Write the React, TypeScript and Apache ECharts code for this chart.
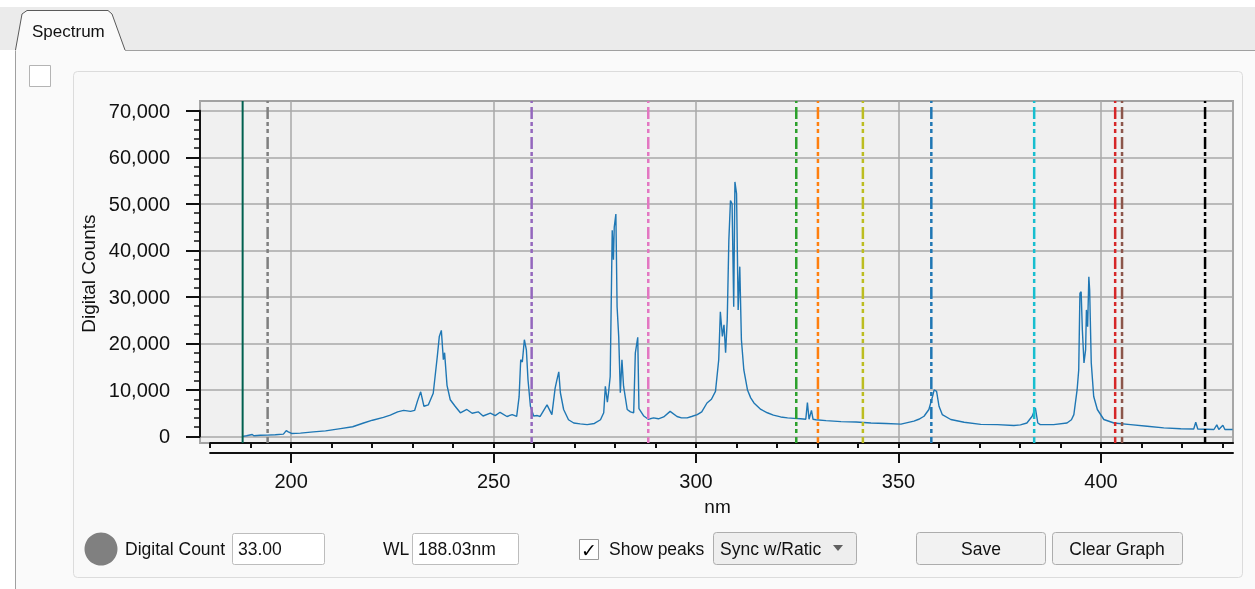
import React, { useEffect, useRef } from "react";
import * as echarts from "echarts";

// ---------------- data ----------------
const SPECTRUM_NM = [
  188.03, 189.0, 190.4, 190.8, 192.4, 194.1, 196.1, 198.1, 198.8, 199.3, 200.1, 202.3, 205.5, 208.5,
  212.2, 215.2, 217.9, 220.1, 222.8, 224.5, 226.3, 227.8, 229.5, 230.5, 231.2, 232.0, 232.8, 233.9,
  235.1, 236.1, 236.6, 237.1, 237.6, 237.9, 238.5, 239.3, 240.5, 241.8, 243.4, 244.7, 246.2, 247.4,
  249.2, 250.4, 251.6, 253.3, 254.6, 255.7, 256.3, 256.7, 257.1, 257.6, 258.1, 258.5, 259.1, 259.9,
  260.8, 261.5, 263.2, 264.4, 265.2, 265.6, 266.1, 266.5, 267.3, 268.5, 269.8, 271.4, 273.1, 274.9,
  276.4, 277.2, 277.6, 278.1, 278.4, 278.8, 279.3, 279.6, 279.8, 280.2, 280.5, 280.9, 281.3, 281.7,
  282.1, 283.0, 283.8, 284.6, 285.0, 285.6, 285.9, 287.1, 288.2, 289.5, 290.7, 292.0, 293.6, 295.3,
  296.4, 297.8, 298.9, 300.3, 301.4, 302.7, 303.8, 304.8, 305.6, 306.0, 306.5, 306.9, 307.3, 307.7,
  308.1, 308.5, 308.9, 309.3, 309.6, 310.0, 310.4, 310.8, 311.2, 311.8, 312.7, 313.5, 314.3, 316.0,
  317.6, 319.1, 320.9, 322.6, 324.2, 325.8, 327.1, 327.5, 327.9, 328.5, 328.9, 329.6, 332.1, 335.8,
  339.5, 343.2, 346.9, 350.6, 353.8, 355.0, 356.3, 357.5, 358.4, 358.8, 359.4, 360.0, 360.8, 362.9,
  366.2, 370.3, 374.4, 378.5, 380.1, 381.7, 383.0, 383.8, 384.4, 385.0, 388.3, 391.6, 392.7, 393.3,
  394.1, 394.5, 394.8, 395.1, 395.4, 395.8, 396.2, 396.4, 396.7, 397.0, 397.2, 397.6, 398.2, 399.1,
  400.7, 403.2, 407.3, 411.4, 415.5, 419.7, 422.9, 423.4, 423.9, 427.9, 428.6, 429.1, 430.1, 430.6,
  432.5,
];
const SPECTRUM_COUNTS = [
  33, 150, 420, 150, 250, 300, 380, 500, 1250, 1000, 650, 720, 1000, 1200,
  1700, 2100, 2900, 3500, 4100, 4600, 5300, 5600, 5400, 5600, 7600, 9600, 6500, 6800,
  9300, 17200, 21500, 22800, 16500, 18000, 11000, 7900, 6500, 5100, 5800, 5000, 5300, 4400,
  5000, 4500, 5200, 4300, 4700, 4300, 8500, 16500, 16000, 20800, 18600, 12200, 6500, 4400,
  4500, 4300, 6800, 4700, 10400, 12000, 13900, 9400, 5800, 3600, 2900, 2700, 2550, 2800,
  3600, 5100, 10800, 7400, 9500, 12900, 44300, 38000, 45000, 47800, 27900, 21500, 9400, 16500,
  10800, 5800, 5300, 5100, 17900, 21300, 6000, 4400, 3700, 4000, 3800, 4200, 5400, 4300,
  4000, 4000, 4300, 4700, 5300, 7200, 8000, 9700, 16500, 26800, 21500, 24000, 18000, 25000,
  42200, 50700, 50000, 27900, 54700, 52200, 27200, 36500, 20800, 14300, 10000, 8300, 7200, 5800,
  5100, 4600, 4200, 4000, 3900, 3800, 3700, 7300, 3700, 5600, 3700, 3600, 3400, 3200,
  3100, 2900, 2800, 2650, 3300, 3700, 4350, 5800, 8600, 10000, 9700, 6500, 4700, 3650,
  3050, 2600, 2550, 2350, 2500, 2900, 4350, 6100, 2900, 2550, 2550, 2900, 3600, 4700,
  10000, 14300, 30800, 31100, 22900, 15800, 18600, 27200, 23600, 34300, 31500, 15800, 8600, 5800,
  3650, 2900, 2550, 2200, 1850, 1650, 1600, 3050, 1600, 1500, 2500, 1500, 2400, 1500,
  1500,
];

const CURSOR_NM = 188.03;
const CURSOR_COUNT = 33.0;

const PEAK_NM = [194.2, 259.4, 288.2, 324.75, 330.1, 341.2, 358.1, 383.5, 403.5, 405.2, 425.7];
const PEAK_COLORS = [
  "#7f7f7f", "#9467bd", "#e377c2", "#2ca02c", "#ff7f0e", "#bcbd22",
  "#1f77b4", "#17becf", "#d62728", "#8c564b", "#000000",
];

const X_MAJOR_TICKS = [200, 250, 300, 350, 400];
const X_MINOR_TICKS = [180, 190, 200, 210, 220, 230, 240, 250, 260, 270, 280, 290, 300, 310, 320, 330, 340, 350, 360, 370, 380, 390, 400, 410, 420, 430];
const Y_TICK_MIN = 0;
const Y_TICK_MAX = 70000;
const Y_TICK_STEP = 10000;

// ---------------- layout ----------------
const FONT = "'Liberation Sans', Arial, sans-serif";
const PLOT_LEFT = 200;
const PLOT_TOP = 101;
const PLOT_W = 1033;
const PLOT_H = 342;
const X_MIN = 177.5;
const X_MAX = 432.6;
const Y_MIN = -1400;
const Y_MAX = 72100;

const yGridTop = PLOT_TOP + ((Y_MAX - Y_TICK_MAX) / (Y_MAX - Y_MIN)) * PLOT_H;
const yGridH = ((Y_TICK_MAX - Y_TICK_MIN) / (Y_MAX - Y_MIN)) * PLOT_H;
const xGridLeft = PLOT_LEFT + ((X_MINOR_TICKS[0] - X_MIN) / (X_MAX - X_MIN)) * PLOT_W;
const xGridW = PLOT_W - (xGridLeft - PLOT_LEFT);

const UI_TEXT = { fontSize: 17.5, fontFamily: FONT, fill: "#111", verticalAlign: "middle" as const };

function buildOption() {
  const spectrum = SPECTRUM_NM.map((x, i) => [x, SPECTRUM_COUNTS[i]]);
  const peakSeries = PEAK_NM.map((v, i) => ({
    type: "line",
    name: "peak" + i,
    xAxisIndex: 0,
    yAxisIndex: 0,
    data: [
      [v, Y_MAX],
      [v, Y_MIN],
    ],
    symbol: "none",
    silent: true,
    z: 4,
    lineStyle: { color: PEAK_COLORS[i], width: 2.5, type: [12, 3, 4, 3, 4, 4], dashOffset: 24 },
  }));

  const graphics: any[] = [
    { type: "rect", z: -20, shape: { x: 0, y: 0, width: 1255, height: 589 }, style: { fill: "#ffffff" } },
    { type: "rect", z: -19, shape: { x: 0, y: 7, width: 1255, height: 43 }, style: { fill: "#ebebeb" } },
    { type: "rect", z: -19, shape: { x: 15, y: 50, width: 1240, height: 539 }, style: { fill: "#fafafa" } },
    { type: "line", z: -18, shape: { x1: 125, y1: 50.5, x2: 1255, y2: 50.5 }, style: { stroke: "#a0a0a0", lineWidth: 1 } },
    { type: "line", z: -18, shape: { x1: 15.5, y1: 49, x2: 15.5, y2: 589 }, style: { stroke: "#a0a0a0", lineWidth: 1 } },
    {
      type: "polygon", z: -17,
      shape: { points: [[15.5, 51], [22, 14], [27, 10.5], [108, 10.5], [112, 14], [125, 51]] },
      style: { fill: "#fafafa" },
    },
    {
      type: "polyline", z: -16,
      shape: { points: [[15.5, 50], [22, 14], [27, 10.5], [108, 10.5], [112, 14], [125, 50]] },
      style: { stroke: "#5a5a5a", lineWidth: 1, fill: "none" },
    },
    { type: "text", z: -15, x: 32, y: 31, style: { ...UI_TEXT, text: "Spectrum", fontSize: 17 } },
    { type: "rect", z: -15, shape: { x: 29.5, y: 65.5, width: 21, height: 21 }, style: { fill: "#ffffff", stroke: "#b4b4b4", lineWidth: 1 } },
    { type: "rect", z: -15, shape: { x: 73.5, y: 71.5, width: 1169, height: 506, r: 4 }, style: { fill: "#f9f9f9", stroke: "#dcdcdc", lineWidth: 1 } },

    // bottom controls
    { type: "circle", z: 1, shape: { cx: 101, cy: 549, r: 16.5 }, style: { fill: "#808080" } },
    { type: "text", z: 1, x: 125, y: 549, style: { ...UI_TEXT, text: "Digital Count" } },
    { type: "rect", z: 1, shape: { x: 232.5, y: 533.5, width: 92, height: 31, r: 2 }, style: { fill: "#ffffff", stroke: "#bdbdbd", lineWidth: 1 } },
    { type: "text", z: 2, x: 238, y: 549, style: { ...UI_TEXT, text: CURSOR_COUNT.toFixed(2) } },
    { type: "text", z: 1, x: 383, y: 549, style: { ...UI_TEXT, text: "WL" } },
    { type: "rect", z: 1, shape: { x: 412.5, y: 533.5, width: 106, height: 31, r: 2 }, style: { fill: "#ffffff", stroke: "#bdbdbd", lineWidth: 1 } },
    { type: "text", z: 2, x: 418, y: 549, style: { ...UI_TEXT, text: CURSOR_NM.toFixed(2) + "nm" } },
    { type: "rect", z: 1, shape: { x: 579.5, y: 539.5, width: 19, height: 20 }, style: { fill: "#ffffff", stroke: "#9a9a9a", lineWidth: 1 } },
    { type: "text", z: 2, x: 589, y: 550, style: { text: "✓", fontSize: 19, fontWeight: "bold", fontFamily: "'DejaVu Sans', sans-serif", fill: "#000", align: "center", verticalAlign: "middle" } },
    { type: "text", z: 1, x: 609, y: 549, style: { ...UI_TEXT, text: "Show peaks" } },
    { type: "rect", z: 1, shape: { x: 713.5, y: 532.5, width: 143, height: 32, r: 3 }, style: { fill: "#eeeeee", stroke: "#adadad", lineWidth: 1 } },
    { type: "text", z: 2, x: 720, y: 549, style: { ...UI_TEXT, text: "Sync w/Ratic" } },
    { type: "polygon", z: 2, shape: { points: [[833, 545], [843, 545], [838, 551]] }, style: { fill: "#606060" } },
    { type: "rect", z: 1, shape: { x: 916.5, y: 532.5, width: 129, height: 32, r: 3 }, style: { fill: "#f2f2f2", stroke: "#adadad", lineWidth: 1 } },
    { type: "text", z: 2, x: 981, y: 549, style: { ...UI_TEXT, text: "Save", align: "center" } },
    { type: "rect", z: 1, shape: { x: 1052.5, y: 532.5, width: 130, height: 32, r: 3 }, style: { fill: "#f2f2f2", stroke: "#adadad", lineWidth: 1 } },
    { type: "text", z: 2, x: 1117, y: 549, style: { ...UI_TEXT, text: "Clear Graph", align: "center" } },
  ];

  const axisText = { color: "#111", fontSize: 20, fontFamily: FONT };

  return {
    animation: false,
    backgroundColor: "transparent",
    textStyle: { fontFamily: FONT },
    graphic: { elements: graphics },
    grid: [
      {
        left: PLOT_LEFT, top: PLOT_TOP, width: PLOT_W, height: PLOT_H,
        show: true, backgroundColor: "#f0f0f0", borderColor: "#a3a3a3", borderWidth: 2,
        containLabel: false, outerBoundsMode: "none",
      },
      { left: PLOT_LEFT, top: yGridTop, width: PLOT_W, height: yGridH, containLabel: false, outerBoundsMode: "none" },
      { left: xGridLeft, top: PLOT_TOP, width: xGridW, height: PLOT_H, containLabel: false, outerBoundsMode: "none" },
    ],
    xAxis: [
      {
        gridIndex: 0, type: "value", min: X_MIN, max: X_MAX, splitNumber: 5,
        axisLine: { show: false }, axisTick: { show: false }, axisLabel: { show: false },
        splitLine: { show: true, lineStyle: { color: "#a9a9a9", width: 1.5 } },
      },
      {
        gridIndex: 2, type: "value", min: X_MINOR_TICKS[0], max: X_MAX, position: "bottom", offset: 10,
        axisLine: { show: true, lineStyle: { color: "#111", width: 2 } },
        axisTick: { show: true, customValues: X_MINOR_TICKS, length: 5, lineStyle: { color: "#111", width: 2 } },
        axisLabel: { show: false }, splitLine: { show: false },
      },
      {
        gridIndex: 2, type: "value", min: X_MINOR_TICKS[0], max: X_MAX, position: "bottom", offset: 10,
        axisLine: { show: true, lineStyle: { color: "#111", width: 2 } },
        axisTick: { show: true, customValues: X_MAJOR_TICKS, length: 10, lineStyle: { color: "#111", width: 2 } },
        axisLabel: {
          show: true, customValues: X_MAJOR_TICKS, margin: 18, ...axisText,
          formatter: (v: number) => (X_MAJOR_TICKS.indexOf(v) >= 0 ? String(v) : ""),
        },
        splitLine: { show: false },
        name: "nm", nameLocation: "middle", nameGap: 44,
        nameTextStyle: { ...axisText, fontSize: 19, padding: [0, 8, 0, 0] },
      },
      { gridIndex: 1, type: "value", min: 0, max: 1, show: false },
    ],
    yAxis: [
      {
        gridIndex: 0, type: "value", min: Y_MIN, max: Y_MAX,
        axisLine: { show: false }, axisTick: { show: false }, axisLabel: { show: false }, splitLine: { show: false },
      },
      {
        gridIndex: 1, type: "value", min: Y_TICK_MIN, max: Y_TICK_MAX, interval: Y_TICK_STEP, position: "left", offset: 6,
        axisLine: { show: true, lineStyle: { color: "#111", width: 2 } },
        axisTick: { show: true, length: 14, lineStyle: { color: "#111", width: 2 } },
        minorTick: { show: true, splitNumber: 5, length: 6, lineStyle: { color: "#111", width: 1.5 } },
        axisLabel: {
          show: true, margin: 24, ...axisText,
          formatter: (v: number) => v.toLocaleString("en-US"),
        },
        splitLine: { show: true, lineStyle: { color: "#a9a9a9", width: 1.5 } },
        minorSplitLine: { show: false },
        name: "Digital Counts", nameLocation: "middle", nameGap: 91, nameRotate: 90,
        nameTextStyle: { ...axisText, fontSize: 19 },
      },
      { gridIndex: 2, type: "value", min: 0, max: 1, show: false },
    ],
    series: [
      {
        type: "line", name: "spectrum", xAxisIndex: 0, yAxisIndex: 0, data: spectrum,
        symbol: "none", silent: true, z: 3,
        lineStyle: { color: "#1f77b4", width: 1.4 },
      },
      ...peakSeries,
      {
        type: "line", name: "cursor", xAxisIndex: 0, yAxisIndex: 0,
        data: [
          [CURSOR_NM, Y_MAX],
          [CURSOR_NM, Y_MIN],
        ],
        symbol: "none", silent: true, z: 5,
        lineStyle: { color: "#00604f", width: 2, type: "solid" },
      },
    ],
  };
}

export default function App() {
  const ref = useRef<HTMLDivElement>(null);
  useEffect(() => {
    if (!ref.current) return;
    const chart = echarts.init(ref.current, null, { renderer: "svg" });
    chart.setOption(buildOption() as any);
    return () => chart.dispose();
  }, []);
  return (
    <div
      ref={ref}
      style={{ position: "fixed", left: 0, top: 0, width: 1255, height: 589 }}
    />
  );
}
